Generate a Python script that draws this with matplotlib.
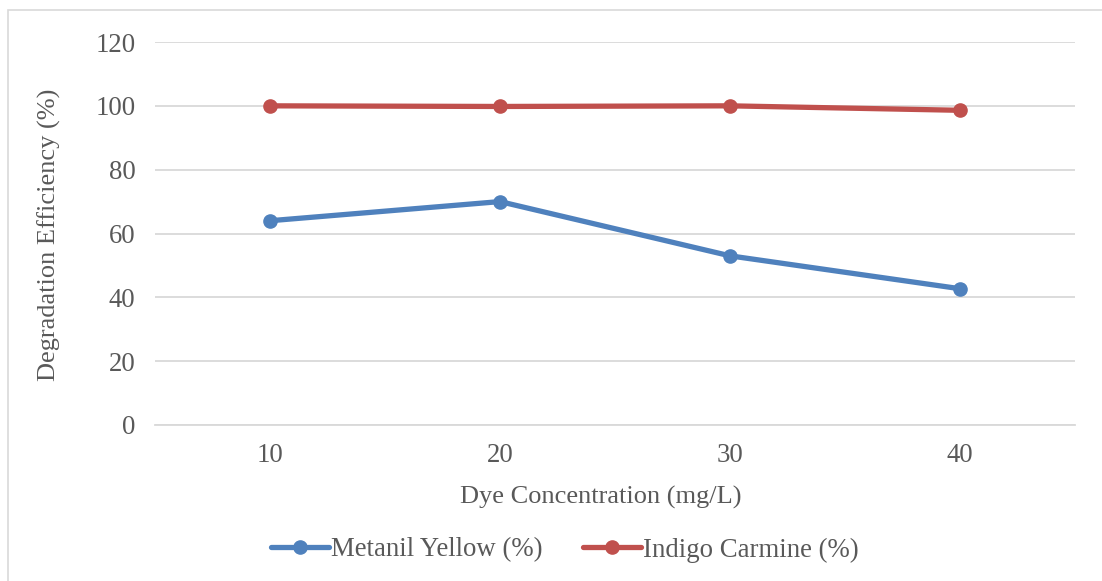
import matplotlib
matplotlib.use("Agg")
import matplotlib.pyplot as plt
from matplotlib.patches import Rectangle

plt.rcParams['font.family'] = ['Liberation Serif', 'DejaVu Serif']

concentration = ["10", "20", "30", "40"]
metanil_yellow = [64, 70, 53, 42.7]
indigo_carmine = [100, 99.8, 100, 98.6]
y_ticks = [0, 20, 40, 60, 80, 100, 120]

W, H = 1102, 581
TXT = "#595959"
GRID = "#d9d9d9"
FS = 19.3

fig = plt.figure(figsize=(W / 100, H / 100), dpi=100)
fig.patches.append(Rectangle((8 / W, -0.1), 1.2, 1 - 10 / H + 0.1, transform=fig.transFigure,
                             fill=False, edgecolor=GRID, linewidth=1.2))

ax = fig.add_axes([155 / W, 1 - 425 / H, 920 / W, 383 / H])
x = range(len(concentration))
ax.plot(x, metanil_yellow, color="#4F81BD", lw=3.8, marker="o", ms=9.5, label="Metanil Yellow (%)",
        solid_capstyle="round")
ax.plot(x, indigo_carmine, color="#C0504D", lw=3.8, marker="o", ms=9.5, label="Indigo Carmine (%)",
        solid_capstyle="round")

ax.set_xlim(-0.5, len(concentration) - 0.5)
ax.set_ylim(0, 120)
ax.set_xticks(list(x))
ax.set_xticklabels(concentration)
ax.set_yticks(y_ticks)
ax.grid(axis="y", color=GRID, lw=1.3)
ax.set_axisbelow(True)
for s in ["top", "right", "left"]:
    ax.spines[s].set_visible(False)
ax.spines["bottom"].set_color(GRID)
ax.spines["bottom"].set_linewidth(1.3)
ax.tick_params(length=0, labelsize=FS, labelcolor=TXT)
ax.tick_params(axis="y", pad=14)
ax.tick_params(axis="x", pad=13)

ax.set_xlabel("Dye Concentration (mg/L)", fontsize=19, color=TXT)
ax.xaxis.set_label_coords((601 - 155) / 920, (425 - 497) / 383)
ax.xaxis.label.set_va("center")
ax.set_ylabel("Degradation Efficiency (%)", fontsize=19, color=TXT)
ax.yaxis.set_label_coords((49 - 155) / 920, (425 - 235) / 383)
ax.yaxis.label.set_va("center")

fig.legend(loc="center", bbox_to_anchor=(565 / W, 1 - 550 / H), ncol=2, frameon=False,
           fontsize=FS, labelcolor=TXT, handlelength=2.15, handletextpad=0.1, columnspacing=1.5)

fig.savefig("out.png", dpi=100)
